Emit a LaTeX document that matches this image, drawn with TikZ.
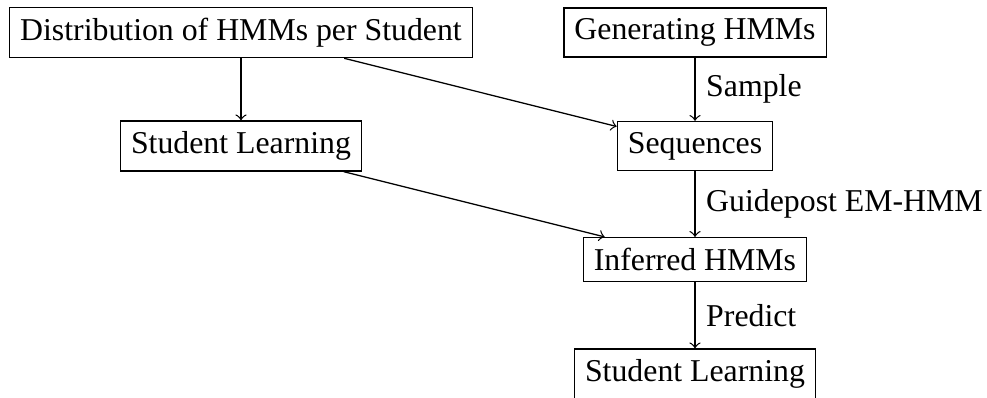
\documentclass[tikz,border=0pt]{standalone}
\usepackage{fontspec}
\setmainfont{Liberation Serif}
\begin{document}
\begin{tikzpicture}[x=0.3145pt, y=-0.3145pt,
  box/.style={draw, rectangle},
  flow/.style={->}]
\useasboundingbox (0,0) rectangle (987,397);
% first row
\node[box] (dist) at (241,32.5) {Distribution of HMMs per Student};
\node[box] (gen)  at (695,32.5) {Generating HMMs};
% second row
\node[box] (learnA) at (241,146) {Student Learning};
\node[box] (seq)    at (695,146) {Sequences};
% third and fourth rows
\node[box] (inf)    at (695,259.5) {Inferred HMMs};
\node[box] (learnB) at (695,374) {Student Learning};
% connectors
\draw[flow] (dist) -- (learnA);
\draw[flow] (dist) -- (seq);
\draw[flow] (learnA) -- (inf);
\draw[flow] (gen) -- node[right] {Sample} (seq);
\draw[flow] (seq) -- node[right] {Guidepost EM-HMM} (inf);
\draw[flow] (inf) -- node[right] {Predict} (learnB);
\end{tikzpicture}
\end{document}
